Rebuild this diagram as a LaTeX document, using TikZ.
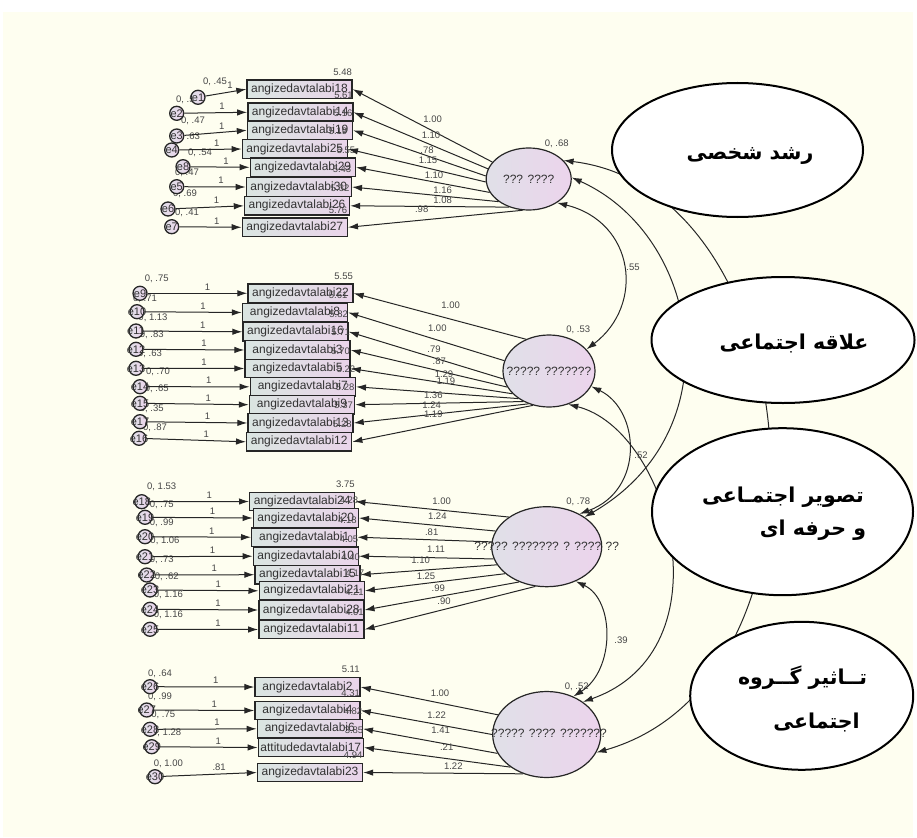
\documentclass[tikz,border=0pt]{standalone}
\usepackage{fontspec}
\setmainfont{Liberation Sans}
\newfontfamily\arabicfont[Script=Arabic]{DejaVu Sans}
\TeXXeTstate=1
\usetikzlibrary{arrows.meta,shapes.geometric}
\definecolor{bgivory}{RGB}{254,254,240}
\definecolor{boxL}{RGB}{218,229,225}
\definecolor{boxR}{RGB}{234,212,234}
\definecolor{latL}{RGB}{224,224,232}
\definecolor{latR}{RGB}{236,212,236}
\definecolor{txtc}{RGB}{50,50,50}
\definecolor{numc}{RGB}{70,70,70}
\tikzset{
  obs/.style={draw=black!85, line width=1.4pt, left color=boxL, right color=boxR,
    minimum width=105pt, minimum height=18.5pt, inner sep=0pt,
    font=\fontsize{12}{13}\selectfont, text=txtc},
  errc/.style={circle, draw=black!85, line width=1.3pt, left color=latL, right color=latR,
    minimum size=14pt, inner sep=0pt},
  errt/.style={font=\fontsize{11}{12}\selectfont, text=txtc, inner sep=0pt},
  lat/.style={ellipse, draw=black!85, line width=1.2pt, left color=latL, right color=latR, inner sep=0pt},
  lattext/.style={font=\fontsize{12}{13}\selectfont, text=txtc, inner sep=0pt},
  note/.style={ellipse, draw=black, line width=2pt, fill=white, inner sep=0pt},
  artext/.style={font=\arabicfont\bfseries\fontsize{20.5}{22}\selectfont, inner sep=0pt},
  num/.style={font=\fontsize{9.5}{11}\selectfont, text=numc, inner sep=0pt},
  arr/.style={-{Latex[length=10pt,width=6.5pt]}, line width=1pt, draw=black!85},
  cov/.style={{Latex[length=10pt,width=6.5pt]}-{Latex[length=10pt,width=6.5pt]}, line width=1pt, draw=black!85}
}
\begin{document}
\begin{tikzpicture}[x=1pt,y=-1pt]
\useasboundingbox (0,0) rectangle (917,837);
\fill[bgivory] (3,12) rectangle (913,837);

% latent variables
\node[lat, minimum width=85pt, minimum height=62pt] (L1) at (528.7,179) {};
\node[lat, minimum width=92pt, minimum height=72pt] (L2) at (549,371) {};
\node[lat, minimum width=110pt, minimum height=80pt] (L3) at (546.7,546.7) {};
\node[lat, minimum width=108pt, minimum height=86pt] (L4) at (546.7,734.5) {};
\node[lattext] (L1t) at (L1) {??? ????};
\node[lattext] (L2t) at (L2) {????? ???????};
\node[lattext] (L3t) at (546.7,546.7) {????? ??????? ? ???? ??};
\node[lattext] (L4t) at (549,733) {????? ???? ???????};
\node[num] (L1v) at (556.7,143.3) {0, .68};
\node[num] (L2v) at (578.3,330) {0, .53};
\node[num] (L3v) at (578.3,501.7) {0, .78};
\node[num] (L4v) at (576.7,686.7) {0, .52};

% covariances
\draw[cov] (L1.28) .. controls (810,190) and (850,680) .. (L4.-20);
\draw[cov] (L1.2) .. controls (700,235) and (735,430) .. (L3.38);
\draw[cov] (L1.-40) .. controls (635,222) and (645,305) .. (L2.30);
\draw[cov] (L2.-20) .. controls (640,410) and (645,490) .. (L3.45);
\draw[cov] (L2.-60) .. controls (670,430) and (730,650) .. (L4.42);
\draw[cov] (L3.-50) .. controls (615,600) and (615,670) .. (L4.55);
\node[num] (c55) at (633,267) {.55};
\node[num] (c52) at (641,455) {.52};
\node[num] (c39) at (621,640) {.39};

% annotation ellipses
\node[note, minimum width=251pt, minimum height=134pt] (N1) at (737.5,150) {};
\node[note, minimum width=263pt, minimum height=126pt] (N2) at (783,340) {};
\node[note, minimum width=261pt, minimum height=167pt] (N3) at (782.5,511.7) {};
\node[note, minimum width=223pt, minimum height=148pt] (N4) at (801.7,695.8) {};
\node[artext] (N1t) at (750,156) {\beginR رشد شخصی\endR};
\node[artext] (N2t) at (794,343) {\beginR علاقه اجتماعی\endR};
\node[artext] (N3a) at (783,497) {\beginR تصویر اجتمـاعی\endR};
\node[artext] (N3b) at (813,530) {\beginR و حرفه ای\endR};
\node[artext] (N4a) at (802.5,678) {\beginR تــاثیر گــروه\endR};
\node[artext] (N4b) at (816.5,722) {\beginR اجتماعی\endR};

% observed variables
\foreach \n/\x/\y/\t in {
 a1/299.5/89.2/angizedavtalabi18, a2/300.3/112.3/angizedavtalabi14,
 a3/300/130.3/angizedavtalabi19, a4/294.8/149/angizedavtalabi25,
 a5/302.8/167.3/angizedavtalabi29, a6/298.8/187/angizedavtalabi30,
 a7/297/205.8/angizedavtalabi26, a8/294.8/227.3/angizedavtalabi27,
 b1/300.5/293.3/angizedavtalabi22, b2/295/312.5/angizedavtalabi8,
 b3/295.5/331.8/angizedavtalabi16, b4/297.5/350/angizedavtalabi3,
 b5/297.5/368.5/angizedavtalabi5, b6/302.8/386.8/angizedavtalabi7,
 b7/302/404.7/angizedavtalabi9, b8/300.5/423/angizedavtalabi13,
 b9/299.2/441.8/angizedavtalabi12,
 c1/302.2/501.5/angizedavtalabi24, c2/305.8/518/angizedavtalabi20,
 c3/304.2/537.2/angizedavtalabi1, c4/305.8/556.2/angizedavtalabi10,
 c5/307.5/574.7/angizedavtalabi15, c6/311.7/590.8/angizedavtalabi21,
 c7/311.3/610/angizedavtalabi28, c8/311.3/629.5/angizedavtalabi11,
 d1/307.5/687/angizedavtalabi2, d2/307.5/710.5/angizedavtalabi4,
 d3/309.8/728.8/angizedavtalabi6, d4/310.8/747.5/attitudedavtalabi17,
 d5/310/772.5/angizedavtalabi23}
 \node[obs] (\n) at (\x,\y) {\t};

% intercepts
\foreach \b/\v in {a1/5.48,a2/5.61,a3/5.16,a4/5.19,a5/5.55,a6/5.43,a7/5.32,a8/5.76,
 b1/5.55,b2/5.61,b3/5.82,b4/5.71,b5/5.70,b6/5.22,b7/5.28,b8/5.37,b9/5.28,
 c1/3.75,c2/4.28,c3/4.18,c4/4.05,c5/4.40,c6/4.17,c7/4.21,c8/4.01,
 d1/5.11,d2/4.31,d3/4.82,d4/3.85,d5/4.94}
 \node[num] (i\b) at ([shift={(-10,-7.5)}]\b.north east) {\v};

% loadings
\foreach \L/\a/\b/\lx/\ly/\v in {
 L1/155/a1/432.7/119/1.00, L1/166/a2/431/135.7/1.10, L1/176/a3/427/150.7/.78,
 L1/184/a4/428/160.7/1.15, L1/199/a5/434/175/1.10, L1/217/a6/442.7/190/1.16,
 L1/235/a7/442.7/200/1.08, L1/259/a8/421.7/209/.98,
 L2/126/b1/450.7/305/1.00, L2/167/b2/437.3/328.3/1.00, L2/190/b3/434/349/.79,
 L2/201/b4/439.3/361.7/.87, L2/212/b5/444/374/1.29, L2/222/b6/446/381.7/1.19,
 L2/230/b7/433.3/395/1.36, L2/238/b8/431.7/405/1.24, L2/245/b9/433.3/414/1.19,
 L3/142/c1/441.7/501/1.00, L3/163/c2/437.3/516/1.24, L3/175/c3/431.7/532.7/.81,
 L3/193/c4/436/549.3/1.11, L3/200/c5/420.7/560/1.10, L3/213/c6/426/576/1.25,
 L3/232/c7/438.3/588.3/.99, L3/254/c8/444/601.7/.90,
 L4/158/d1/440/693.3/1.00, L4/180/d2/436.7/715/1.22, L4/201/d3/440.7/730/1.41,
 L4/222/d4/446.7/747.3/.21, L4/239/d5/453.3/766/1.22}
{
 \draw[arr] (\L.\a) -- (\b.east);
 \node[num] (w\b) at (\lx,\ly) {\v};
}

% error variances
\foreach \k/\x/\y/\t in {
 1/215/82/{0, .45}, 2/188/100/{0, .51}, 3/193/121/{0, .47}, 4/188/137/{0, .63},
 5/200/153/{0, .54}, 6/187/172.7/{0, .47}, 7/185/194/{0, .69}, 8/187/213/{0, .41},
 9/156.7/279/{0, .75}, 10/145/298.3/{0, .71}, 11/153/317.3/{0, 1.13}, 12/151.7/335/{0, .83},
 13/150/354/{0, .63}, 14/158/372/{0, .70}, 15/156.7/389/{0, .65}, 16/151.7/409/{0, .35},
 17/155/427.3/{0, .87},
 18/161.7/486.7/{0, 1.53}, 19/161.7/504.3/{0, .75}, 20/161.7/522.7/{0, .99}, 21/165/540.7/{0, 1.06},
 22/161.7/560/{0, .73}, 23/166.7/576.7/{0, .62}, 24/168.3/595/{0, 1.16}, 25/168.3/615/{0, 1.16},
 26/160/673.3/{0, .64}, 27/160/696.7/{0, .99}, 28/163.3/715/{0, .75}, 29/166.7/732.7/{0, 1.28},
 30/168.3/764/{0, 1.00}}
 \node[num] (v\k) at (\x,\y) {\t};

% error terms
\foreach \n/\x/\y/\t/\b/\w in {
 ea1/198/97.3/e1/a1/1, ea2/176.7/113.3/e2/a2/1, ea3/176.7/136/e3/a3/1,
 ea4/171.7/150/e4/a4/1, ea5/183/166.7/e8/a5/1, ea6/176.7/186.7/e5/a6/1,
 ea7/168/209/e6/a7/1, ea8/171.7/226.7/e7/a8/1,
 eb1/140/293.3/e9/b1/1, eb2/137/311.7/e10/b2/1, eb3/136/331/e11/b3/1,
 eb4/136/349.3/e12/b4/1, eb5/136/368.3/e13/b5/1, eb6/140/386.7/e14/b6/1,
 eb7/140/403.3/e15/b7/1, eb8/140/421.7/e17/b8/1, eb9/139/438.3/e16/b9/1,
 ec1/141.7/501.7/e18/c1/1, ec2/145/517.3/e19/c2/1, ec3/145/536.7/e20/c3/1,
 ec4/145/556.7/e21/c4/1, ec5/146.7/575/e22/c5/1, ec6/150/590/e23/c6/1,
 ec7/150/609.3/e24/c7/1, ec8/150/629.3/e25/c8/1,
 ed1/150/686.7/e26/d1/1, ed2/146.7/710/e27/d2/1, ed3/150/729.3/e28/d3/1,
 ed4/151.7/746.7/e29/d4/1, ed5/155/776.7/e30/d5/.81}
{
 \node[errc] (\n) at (\x,\y) {};
 \node[errt] (t\n) at (\n) {\t};
 \draw[arr] (\n) -- node[num, pos=0.6, above=2.5pt] (p\n) {\w} (\b.west);
}
\end{tikzpicture}
\end{document}
